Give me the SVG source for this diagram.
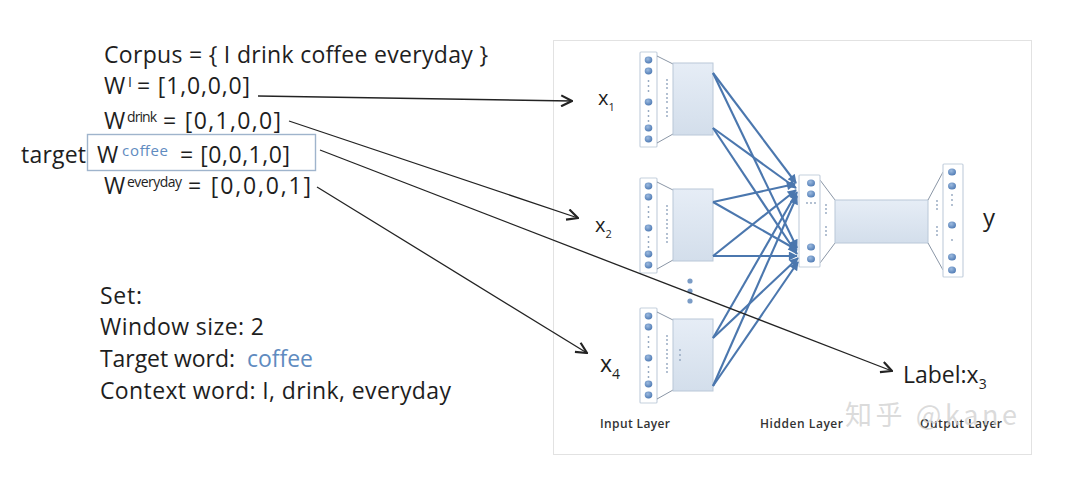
<svg xmlns="http://www.w3.org/2000/svg" width="1073" height="496" viewBox="0 0 1073 496">
<style>
.t{font-family:"Open Sans","Liberation Sans",sans-serif;font-size:23px;fill:#1e1e1e}
.sup{font-family:"Open Sans","Liberation Sans",sans-serif;font-size:14px;fill:#1e1e1e}
.blue{fill:#5f8bc0}
.col{fill:#ffffff;stroke:#c6d1de;stroke-width:1.2}
.box{fill:url(#boxg);stroke:#bac8d8;stroke-width:1}
.nd{fill:url(#ndg)}
.dt{fill:#8fa3bd}
.thin{stroke:#8a96a6;stroke-width:1;fill:none}
.blk{stroke:#232323;stroke-width:1.3;fill:none;marker-end:url(#open)}
.bl{stroke:#4b77ae;stroke-width:2.1;fill:none;marker-end:url(#tri)}
.lay{font-family:"Open Sans","Liberation Sans",sans-serif;font-size:12px;font-weight:600;fill:#333}
</style>
<defs>
<linearGradient id="boxg" x1="0" y1="0" x2="0" y2="1"><stop offset="0" stop-color="#e6edf6"/><stop offset="1" stop-color="#d3deeb"/></linearGradient>
<radialGradient id="ndg" cx="0.4" cy="0.35" r="0.7"><stop offset="0" stop-color="#9dbbe0"/><stop offset="1" stop-color="#4c78b2"/></radialGradient>
<marker id="open" viewBox="0 0 12 12" refX="11" refY="6" markerWidth="13" markerHeight="13" markerUnits="userSpaceOnUse" orient="auto"><path d="M1,1 L11,6 L1,11" stroke="#232323" stroke-width="2" fill="none"/></marker>
<marker id="tri" viewBox="0 0 10 10" refX="9" refY="5" markerWidth="10" markerHeight="9" markerUnits="userSpaceOnUse" orient="auto"><path d="M0,0 L10,5 L0,10 Z" fill="#4b77ae"/></marker>
</defs>
<rect width="1073" height="496" fill="#ffffff"/>

<g id="text-left">
<text class="t" x="104" y="63" textLength="384">Corpus = { I drink coffee everyday }</text>
<text class="t" x="104" y="94">W</text><text class="sup" x="128" y="87">I</text><text class="t" x="137" y="94" textLength="113">= [1,0,0,0]</text>
<text class="t" x="104" y="129">W</text><text class="sup" x="127" y="122" textLength="30">drink</text><text class="t" x="163" y="129" textLength="118">= [0,1,0,0]</text>
<text class="t" x="21" y="163" textLength="65">target</text>
<rect x="87.5" y="134.5" width="228" height="36" fill="none" stroke="#9fb4cc" stroke-width="1.4"/>
<text class="t" x="97" y="163">W</text><text class="sup blue" x="122" y="156" style="font-size:15px" textLength="46">coffee</text><text class="t" x="180" y="163" textLength="110">= [0,0,1,0]</text>
<text class="t" x="104" y="194">W</text><text class="sup" x="127" y="187" textLength="55">everyday</text><text class="t" x="188" y="194" textLength="123">= [0,0,0,1]</text>
</g>

<g id="text-set">
<text class="t" x="100" y="304" textLength="42">Set:</text>
<text class="t" x="100" y="335" textLength="164">Window size: 2</text>
<text class="t" x="100" y="367" textLength="135">Target word:</text><text class="t blue" x="247" y="367" textLength="66">coffee</text>
<text class="t" x="100" y="399" textLength="351">Context word: I, drink, everyday</text>
</g>

<rect id="frame" x="553.5" y="40.5" width="478" height="414" fill="none" stroke="#e2e2e2" stroke-width="1"/>

<g id="input1">
<rect class="col" x="640" y="52" width="17" height="95" rx="1"/>
<ellipse class="nd" cx="648.5" cy="60" rx="3.8" ry="3.4"/><ellipse class="nd" cx="648.5" cy="71" rx="3.8" ry="3.4"/>
<ellipse class="nd" cx="648.5" cy="102" rx="3.8" ry="3.4"/><ellipse class="nd" cx="648.5" cy="128" rx="3.8" ry="3.4"/><ellipse class="nd" cx="648.5" cy="139" rx="3.8" ry="3.4"/>
<g class="dt"><circle cx="648.5" cy="81" r="0.9"/><circle cx="648.5" cy="86" r="0.9"/><circle cx="648.5" cy="91" r="0.9"/><circle cx="648.5" cy="111" r="0.9"/><circle cx="648.5" cy="116" r="0.9"/><circle cx="648.5" cy="121" r="0.9"/>
<circle cx="667" cy="80" r="0.9"/><circle cx="667" cy="84" r="0.9"/><circle cx="667" cy="88" r="0.9"/><circle cx="667" cy="94" r="0.9"/><circle cx="667" cy="98" r="0.9"/><circle cx="667" cy="102" r="0.9"/><circle cx="667" cy="108" r="0.9"/><circle cx="667" cy="112" r="0.9"/><circle cx="667" cy="116" r="0.9"/></g>
<path class="thin" d="M657,56 L673,64 M657,143 L673,134"/>
<rect class="box" x="673" y="63" width="40" height="72"/>
</g>

<g id="input2" transform="translate(0,126)">
<rect class="col" x="640" y="52" width="17" height="95" rx="1"/>
<ellipse class="nd" cx="648.5" cy="60" rx="3.8" ry="3.4"/><ellipse class="nd" cx="648.5" cy="71" rx="3.8" ry="3.4"/>
<ellipse class="nd" cx="648.5" cy="102" rx="3.8" ry="3.4"/><ellipse class="nd" cx="648.5" cy="128" rx="3.8" ry="3.4"/><ellipse class="nd" cx="648.5" cy="139" rx="3.8" ry="3.4"/>
<g class="dt"><circle cx="648.5" cy="81" r="0.9"/><circle cx="648.5" cy="86" r="0.9"/><circle cx="648.5" cy="91" r="0.9"/><circle cx="648.5" cy="111" r="0.9"/><circle cx="648.5" cy="116" r="0.9"/><circle cx="648.5" cy="121" r="0.9"/>
<circle cx="667" cy="80" r="0.9"/><circle cx="667" cy="84" r="0.9"/><circle cx="667" cy="88" r="0.9"/><circle cx="667" cy="94" r="0.9"/><circle cx="667" cy="98" r="0.9"/><circle cx="667" cy="102" r="0.9"/><circle cx="667" cy="108" r="0.9"/><circle cx="667" cy="112" r="0.9"/><circle cx="667" cy="116" r="0.9"/></g>
<path class="thin" d="M657,56 L673,64 M657,143 L673,134"/>
<rect class="box" x="673" y="63" width="40" height="72"/>
</g>

<g id="ellipsis"><circle cx="690" cy="281" r="2.6" fill="#7b9cc6"/><circle cx="690" cy="291" r="2.6" fill="#7b9cc6"/><circle cx="690" cy="301" r="2.6" fill="#7b9cc6"/></g>

<g id="input4" transform="translate(0,256)">
<rect class="col" x="640" y="52" width="17" height="95" rx="1"/>
<ellipse class="nd" cx="648.5" cy="60" rx="3.8" ry="3.4"/><ellipse class="nd" cx="648.5" cy="71" rx="3.8" ry="3.4"/>
<ellipse class="nd" cx="648.5" cy="102" rx="3.8" ry="3.4"/><ellipse class="nd" cx="648.5" cy="128" rx="3.8" ry="3.4"/><ellipse class="nd" cx="648.5" cy="139" rx="3.8" ry="3.4"/>
<g class="dt"><circle cx="648.5" cy="81" r="0.9"/><circle cx="648.5" cy="86" r="0.9"/><circle cx="648.5" cy="91" r="0.9"/><circle cx="648.5" cy="111" r="0.9"/><circle cx="648.5" cy="116" r="0.9"/><circle cx="648.5" cy="121" r="0.9"/>
<circle cx="667" cy="80" r="0.9"/><circle cx="667" cy="84" r="0.9"/><circle cx="667" cy="88" r="0.9"/><circle cx="667" cy="94" r="0.9"/><circle cx="667" cy="98" r="0.9"/><circle cx="667" cy="102" r="0.9"/><circle cx="667" cy="108" r="0.9"/><circle cx="667" cy="112" r="0.9"/><circle cx="667" cy="116" r="0.9"/></g>
<path class="thin" d="M657,56 L673,64 M657,143 L673,134"/>
<rect class="box" x="673" y="63" width="40" height="72"/>
<g class="dt"><circle cx="680" cy="94" r="0.9"/><circle cx="680" cy="99" r="0.9"/><circle cx="680" cy="104" r="0.9"/></g>
</g>

<g id="hidden">
<path class="thin" d="M820,180 L835,200 M820,263 L835,243"/>
<rect class="col" x="799" y="175" width="21" height="92" rx="1"/>
<ellipse class="nd" cx="811" cy="183" rx="4" ry="3.6"/><ellipse class="nd" cx="811" cy="194" rx="4" ry="3.6"/>
<ellipse class="nd" cx="811" cy="247" rx="4" ry="3.6"/><ellipse class="nd" cx="811" cy="259" rx="4" ry="3.6"/>
<g class="dt"><circle cx="807" cy="203" r="0.9"/><circle cx="811" cy="203" r="0.9"/><circle cx="815" cy="203" r="0.9"/>
<circle cx="826" cy="205" r="0.9"/><circle cx="826" cy="209" r="0.9"/><circle cx="826" cy="213" r="0.9"/><circle cx="826" cy="227" r="0.9"/><circle cx="826" cy="231" r="0.9"/><circle cx="826" cy="235" r="0.9"/></g>
<rect class="box" x="835" y="200" width="93" height="43"/>
</g>

<g id="output">
<path class="thin" d="M928,200 L943,172 M928,243 L943,270"/>
<rect class="col" x="943" y="164" width="20" height="113" rx="1"/>
<ellipse class="nd" cx="952" cy="172" rx="4" ry="3.6"/><ellipse class="nd" cx="952" cy="186" rx="4" ry="3.6"/>
<ellipse class="nd" cx="952" cy="225" rx="4" ry="3.6"/><ellipse class="nd" cx="952" cy="257" rx="4" ry="3.6"/><ellipse class="nd" cx="952" cy="270" rx="4" ry="3.6"/>
<g class="dt"><circle cx="952" cy="195" r="0.9"/><circle cx="952" cy="200" r="0.9"/><circle cx="952" cy="205" r="0.9"/><circle cx="952" cy="240" r="0.9"/>
<circle cx="937" cy="201" r="0.9"/><circle cx="937" cy="205" r="0.9"/><circle cx="937" cy="209" r="0.9"/><circle cx="937" cy="227" r="0.9"/><circle cx="937" cy="231" r="0.9"/><circle cx="937" cy="235" r="0.9"/></g>
</g>

<g id="connectors">
<path class="bl" d="M713,73 L796,183"/>
<path class="bl" d="M713,73 L797,248"/>
<path class="bl" d="M713,128 L796,188"/>
<path class="bl" d="M713,128 L797,254"/>
<path class="bl" d="M713,202 L795,184"/>
<path class="bl" d="M713,202 L797,250"/>
<path class="bl" d="M713,256 L796,190"/>
<path class="bl" d="M713,256 L797,256"/>
<path class="bl" d="M713,338 L797,192"/>
<path class="bl" d="M713,338 L798,258"/>
<path class="bl" d="M713,386 L797,196"/>
<path class="bl" d="M713,386 L798,262"/>
<path class="blk" d="M258,96 L572,101"/>
<path class="blk" d="M289,121 L578,218"/>
<path class="blk" d="M320,150 L892,371"/>
<path class="blk" d="M317,187 L587,353"/>
</g>

<g id="labels">
<text class="t" x="598" y="105" style="font-size:20px">x<tspan dy="6" style="font-size:11px">1</tspan></text>
<text class="t" x="595" y="232" style="font-size:20px">x<tspan dy="6" style="font-size:11px">2</tspan></text>
<text class="t" x="600" y="372">x<tspan dy="7" style="font-size:14px">4</tspan></text>
<text class="t" x="903" y="383">Label:x<tspan dy="6" style="font-size:14px">3</tspan></text>
<text class="t" x="983" y="226" style="font-size:24px">y</text>
<text class="lay" x="600" y="428" textLength="70">Input Layer</text>
<text class="lay" x="760" y="428" textLength="83">Hidden Layer</text>
<text class="lay" x="920" y="428" textLength="82">Output Layer</text>
<text x="845" y="425" textLength="172" style="font-family:'Noto Sans CJK SC','Noto Sans',sans-serif;font-size:27px;fill:#cfcfcf;fill-opacity:0.75">知乎 @kane</text>
</g>
</svg>
